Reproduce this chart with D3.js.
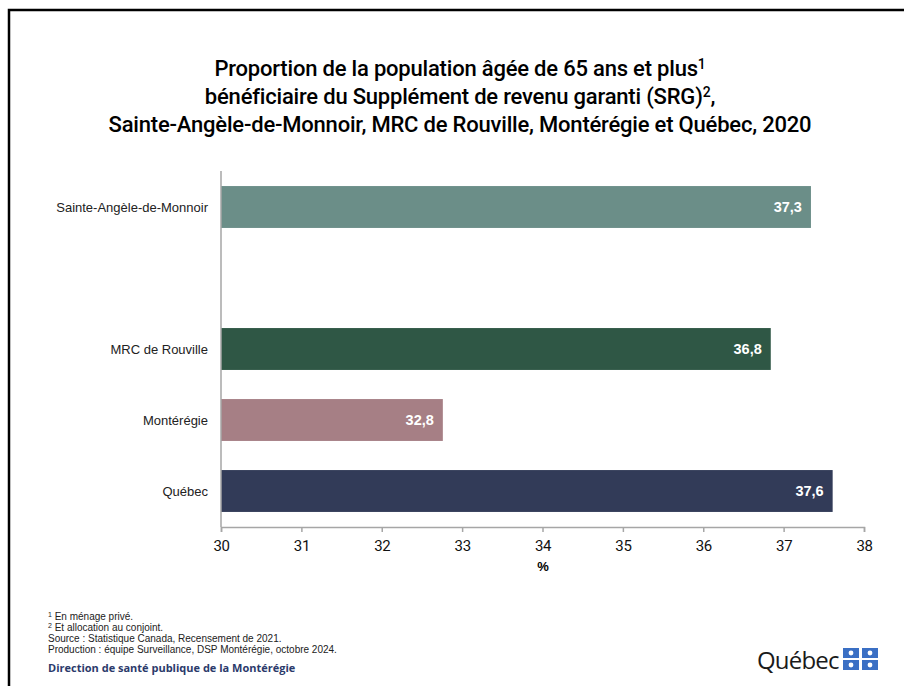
<!DOCTYPE html>
<html>
<head>
<meta charset="utf-8">
<script src="https://cdn.jsdelivr.net/npm/d3@7"></script>
<style>
  body { margin: 0; background: #fff; }
  svg text { font-family: "Liberation Sans", Arial, sans-serif; }
</style>
</head>
<body>
<div id="chart"></div>
<script>
// data (labels rounded to one decimal)
const categories = ["Sainte-Angèle-de-Monnoir", "", "MRC de Rouville", "Montérégie", "Québec"];
const values = [37.34, null, 36.84, 32.76, 37.61];
const barColors = ["#6b8e88", null, "#2f5745", "#a67f85", "#323b58"];
const xTicks = [30, 31, 32, 33, 34, 35, 36, 37, 38];
const titleLines = [
  ["Proportion de la population âgée de 65 ans et plus", "1"],
  ["bénéficiaire du Supplément de revenu garanti (SRG)", "2", ","],
  ["Sainte-Angèle-de-Monnoir, MRC de Rouville, Montérégie et Québec, 2020"]
];
const notes = [
  ["1", " En ménage privé."],
  ["2", " Et allocation au conjoint."],
  ["", "Source : Statistique Canada, Recensement de 2021."],
  ["", "Production : équipe Surveillance,  DSP Montérégie, octobre 2024."]
];

const W = 904, H = 686;
const svg = d3.select("#chart").append("svg")
  .attr("width", W).attr("height", H);

// frame
svg.append("rect")
  .attr("x", 9).attr("y", 10)
  .attr("width", W + 10).attr("height", H + 10)
  .attr("fill", "none").attr("stroke", "#000").attr("stroke-width", 2.5);

// title
const title = svg.append("text")
  .attr("text-anchor", "middle")
  .attr("fill", "#000")
  .style("font-family", "Roboto, 'Liberation Sans', sans-serif")
  .style("font-weight", "500")
  .style("letter-spacing", "-0.2px")
  .style("font-size", "22px");
titleLines.forEach((ln, i) => {
  const t = title.append("tspan").attr("x", 460).attr("y", 76 + i * 28);
  t.append("tspan").text(ln[0]);
  if (ln[1]) t.append("tspan").attr("dy", -7).style("font-size", "14px").text(ln[1]);
  if (ln[2]) t.append("tspan").attr("dy", 7).text(ln[2]);
});

// scales
const x = d3.scaleLinear().domain([30, 38]).range([221, 864]);
const y = d3.scaleBand().domain(categories).range([171.5, 526.5]).paddingInner(0.41).paddingOuter(0.205);

const gridColor = "#a6a6a6";

// bars
const rows = categories.map((c, i) => ({ c, v: values[i], col: barColors[i] })).filter(d => d.v != null);

svg.selectAll(".bar").data(rows).enter().append("rect")
  .attr("class", "bar")
  .attr("x", x(30))
  .attr("y", d => y(d.c))
  .attr("width", d => x(d.v) - x(30))
  .attr("height", y.bandwidth())
  .attr("fill", d => d.col);

svg.selectAll(".val").data(rows).enter().append("text")
  .attr("class", "val")
  .attr("x", d => x(d.v) - 9)
  .attr("y", d => y(d.c) + y.bandwidth() / 2 + 5)
  .attr("text-anchor", "end")
  .attr("fill", "#fff")
  .style("font-size", "14.5px")
  .style("font-weight", "bold")
  .text(d => d3.format(".1f")(d.v).replace(".", ","));

// y axis line + labels
svg.append("line")
  .attr("x1", x(30)).attr("x2", x(30))
  .attr("y1", 171).attr("y2", 527)
  .attr("stroke", gridColor).attr("stroke-width", 1.5);

svg.selectAll(".cat").data(rows).enter().append("text")
  .attr("class", "cat")
  .attr("x", 208)
  .attr("y", d => y(d.c) + y.bandwidth() / 2 + 5)
  .attr("text-anchor", "end")
  .attr("fill", "#222")
  .style("font-size", "13px")
  .text(d => d.c);

// x axis
const xAxis = svg.append("g")
  .attr("transform", "translate(0,527)")
  .call(d3.axisBottom(x).tickValues(xTicks).tickSize(5).tickPadding(8).tickFormat(d3.format("d")));
xAxis.select(".domain").attr("stroke", gridColor).attr("stroke-width", 1.5);
xAxis.selectAll(".tick line").attr("stroke", gridColor).attr("stroke-width", 1.5);
xAxis.selectAll(".tick text")
  .attr("fill", "#111")
  .style("font-family", "Roboto, 'Liberation Sans', sans-serif")
  .style("letter-spacing", "-0.3px")
  .style("font-size", "15px");

svg.append("text")
  .attr("x", 543).attr("y", 571)
  .attr("text-anchor", "middle")
  .style("font-size", "13px").style("font-weight", "bold")
  .text("%");

// footnotes
const nt = svg.append("g").style("font-size", "10px").attr("fill", "#222");
notes.forEach((n, i) => {
  const t = nt.append("text").attr("x", 48).attr("y", 620 + i * 11);
  if (n[0]) t.append("tspan").attr("dy", -3).style("font-size", "7px").text(n[0]);
  t.append("tspan").attr("dy", n[0] ? 3 : 0).text(n[1]);
});

svg.append("text")
  .attr("x", 48).attr("y", 672)
  .attr("fill", "#2b3a6b")
  .style("font-family", "'Open Sans', sans-serif")
  .style("font-size", "11px").style("font-weight", "bold")
  .text("Direction de santé publique de la Montérégie");

// Québec logo
const logo = svg.append("g").attr("transform", "translate(757,669)");
logo.append("text")
  .attr("x", 0).attr("y", 0)
  .attr("fill", "#1a1a1a")
  .style("font-family", "'Open Sans', sans-serif")
  .style("font-size", "24px")
  .style("letter-spacing", "-0.8px")
  .text("Québec");
const flag = logo.append("g").attr("transform", "translate(86,-21)");
[[0, 0], [19, 0], [0, 12], [19, 12]].forEach(p => {
  flag.append("rect").attr("x", p[0]).attr("y", p[1]).attr("width", 16).attr("height", 10).attr("fill", "#3a6fc4");
  flag.append("circle").attr("cx", p[0] + 8).attr("cy", p[1] + 5).attr("r", 2.4).attr("fill", "#fff");
});
</script>
</body>
</html>
